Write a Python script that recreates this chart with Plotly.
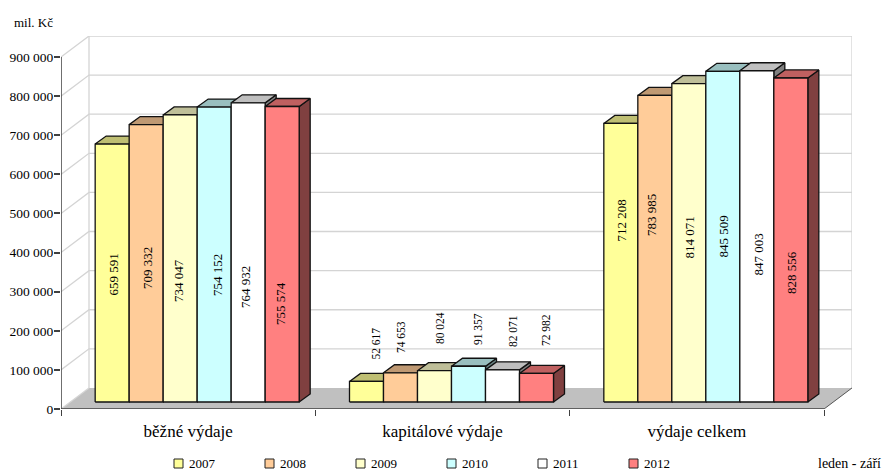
import plotly.graph_objects as go

categories = ["běžné výdaje", "kapitálové výdaje", "výdaje celkem"]
years = ["2007", "2008", "2009", "2010", "2011", "2012"]
values = {
    "2007": [659591, 52617, 712208],
    "2008": [709332, 74653, 783985],
    "2009": [734047, 80024, 814071],
    "2010": [754152, 91357, 845509],
    "2011": [764932, 82071, 847003],
    "2012": [755574, 72982, 828556],
}
# where the rotated labels sit, page pixels (the original has them hand placed)
label_x_px = {
    "2007": [113, 375, 621],
    "2008": [147, 401, 651],
    "2009": [178, 440, 689],
    "2010": [217, 478, 723],
    "2011": [245, 513, 758],
    "2012": [280, 546, 791],
}
label_y_px = {
    "2007": [274.5, 343.5, 220.5],
    "2008": [268, 337, 215],
    "2009": [281, 328, 237.5],
    "2010": [275, 329, 236.5],
    "2011": [287, 331, 254.5],
    "2012": [304, 330, 273],
}
front_colors = ["#FFFF99", "#FFCC99", "#FFFFCC", "#CCFFFF", "#FFFFFF", "#FF8080"]
top_colors = ["#BFBF73", "#BF9973", "#BFBF99", "#99BFBF", "#BFBFBF", "#BF6060"]
side_colors = ["#80804D", "#80664D", "#808066", "#668080", "#808080", "#804040"]
y_ticks = [0, 100000, 200000, 300000, 400000, 500000, 600000, 700000, 800000, 900000]

W, H = 888, 471
LEFT, RIGHT, BOTTOM, TOP = 61, 852, 409, 36
CAT_PX = 254.33
VAL_PX = 39 / 100000

# everything below is in axis units, the 3d look is just offsets
depth_x = 28 / CAT_PX
depth_y = 21 / VAL_PX
bar_w = 34 / CAT_PX
bar_dx = 9 / CAT_PX
bar_base = 7 / VAL_PX
cap_x = 11 / CAT_PX
cap_y = 8 / VAL_PX
x0, x1 = -0.5, 2.5
top_val = y_ticks[-1]
group_start = -0.5 + bar_dx + (1 - 6 * bar_w) / 2


def fmt(v):
    return f"{v:,}".replace(",", " ")


def polys(shapes):
    xs, ys = [], []
    for s in shapes:
        xs += [p[0] for p in s] + [s[0][0], None]
        ys += [p[1] for p in s] + [s[0][1], None]
    return xs, ys


def face(shapes, color):
    xs, ys = polys(shapes)
    return go.Scatter(x=xs, y=ys, mode="lines", fill="toself", fillcolor=color,
                      line=dict(color="#111111", width=1.3), hoverinfo="skip", showlegend=False)


# paper coords are relative to the plot area, so convert from page pixels
def px(v):
    return (v - LEFT) / (RIGHT - LEFT)


def py(v):
    return (BOTTOM - v) / (BOTTOM - TOP)


fig = go.Figure()

# floor
xs, ys = polys([[(x0, 0), (x1, 0), (x1 + depth_x, depth_y), (x0 + depth_x, depth_y)]])
fig.add_trace(go.Scatter(x=xs, y=ys, mode="lines", fill="toself", fillcolor="#C0C0C0",
                         line=dict(width=0), hoverinfo="skip", showlegend=False))

# grid on the walls
grid_x, grid_y = [], []
for t in y_ticks:
    if t > 0:
        grid_x += [x0, x0 + depth_x, x1 + depth_x, None]
        grid_y += [t, t + depth_y, t + depth_y, None]
grid_x += [x0 + depth_x, x0 + depth_x, None, x1 + depth_x, x1 + depth_x, None, x0, x0 + depth_x, None]
grid_y += [depth_y, top_val + depth_y, None, depth_y, top_val + depth_y, None, 0, depth_y, None]
fig.add_trace(go.Scatter(x=grid_x, y=grid_y, mode="lines", line=dict(color="#D4D4D4", width=1.3),
                         hoverinfo="skip", showlegend=False))
fig.add_trace(go.Scatter(x=[x1, x1 + depth_x], y=[0, depth_y], mode="lines",
                         line=dict(color="#555555", width=1), hoverinfo="skip", showlegend=False))

# bars, left to right so the next one covers the side of the previous
for i, year in enumerate(years):
    fronts, tops, sides = [], [], []
    for c, v in enumerate(values[year]):
        left = group_start + c + i * bar_w
        right = left + bar_w
        top = bar_base + v
        fronts.append([(left, bar_base), (right, bar_base), (right, top), (left, top)])
        tops.append([(left, top), (right, top), (right + cap_x, top + cap_y), (left + cap_x, top + cap_y)])
        sides.append([(right, bar_base), (right + cap_x, bar_base + cap_y),
                      (right + cap_x, top + cap_y), (right, top)])
    fig.add_trace(face(sides, side_colors[i]))
    fig.add_trace(face(tops, top_colors[i]))
    fig.add_trace(face(fronts, front_colors[i]))

# axes lines
fig.add_trace(go.Scatter(x=[x0, x0, x1], y=[top_val, 0, 0], mode="lines",
                         line=dict(color="#404040", width=1.5), hoverinfo="skip", showlegend=False))

annotations = []
for i, year in enumerate(years):
    for c, v in enumerate(values[year]):
        annotations.append(dict(x=px(label_x_px[year][c]), y=py(label_y_px[year][c]), xref="paper", yref="paper",
                                text=fmt(v), textangle=-90, showarrow=False, xanchor="center", yanchor="middle",
                                font=dict(size=11.5 if c == 1 else 13, color="#000000")))

annotations.append(dict(x=px(12), y=py(23), xref="paper", yref="paper", text="mil. Kč", xanchor="left",
                        yanchor="middle", showarrow=False, font=dict(size=13)))
annotations.append(dict(x=px(816), y=py(463), xref="paper", yref="paper", text="leden - září", xanchor="left",
                        yanchor="middle", showarrow=False, font=dict(size=14)))

# legend by hand, plotly's swatch gap is too wide for this one
shapes = []
for i, year in enumerate(years):
    sx = 174 + i * 91
    shapes.append(dict(type="rect", xref="paper", yref="paper", x0=px(sx), x1=px(sx + 9), y0=py(468), y1=py(459),
                       fillcolor=front_colors[i], line=dict(color="#222222", width=1)))
    annotations.append(dict(x=px(sx + 13), y=py(463.5), xref="paper", yref="paper", text=year, xanchor="left",
                            yanchor="middle", showarrow=False, font=dict(size=13)))

fig.update_layout(
    width=W, height=H,
    margin=dict(l=LEFT, r=W - RIGHT, t=TOP, b=H - BOTTOM, pad=0),
    paper_bgcolor="white", plot_bgcolor="white",
    font=dict(family="Liberation Serif", color="#000000"),
    showlegend=False,
    annotations=annotations,
    shapes=shapes,
    xaxis=dict(range=[x0, x1 + depth_x], tickvals=[0, 1, 2], ticktext=categories, ticks="", showgrid=False,
               zeroline=False, showline=False, tickfont=dict(size=17), ticklabelstandoff=10, automargin=False,
               minor=dict(tickvals=[-0.5, 0.5, 1.5, 2.5], ticks="outside", ticklen=6, tickcolor="#404040",
                          tickwidth=1.3, showgrid=False)),
    yaxis=dict(range=[0, top_val + depth_y], tickvals=y_ticks, ticktext=[fmt(t) for t in y_ticks],
               ticks="outside", ticklen=6, tickcolor="#404040", tickwidth=1.5, showgrid=False,
               zeroline=False, showline=False, tickfont=dict(size=13.5), ticklabelstandoff=-2, automargin=False),
)

fig.write_html("out.html", config={"displayModeBar": False}, post_script="document.body.style.margin='0';")
